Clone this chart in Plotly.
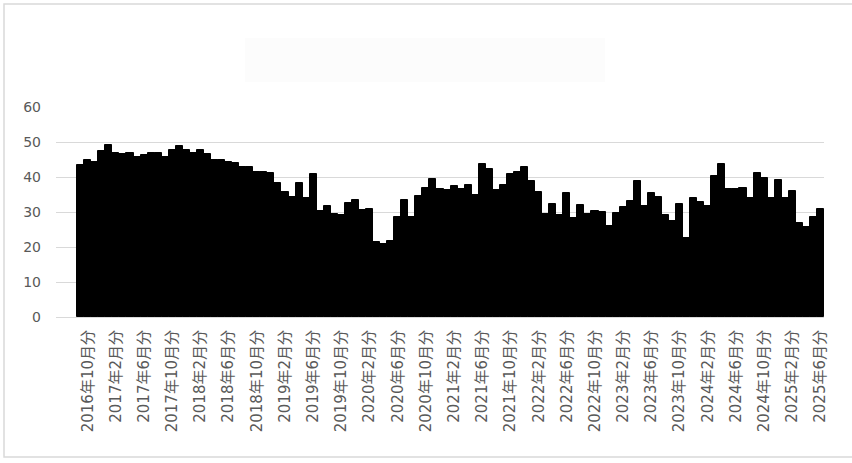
import plotly.graph_objects as go

# Months: 2016年9月分 .. 2025年6月分
months = []
y, m = 2016, 9
while (y, m) <= (2025, 6):
    months.append(f"{y}年{m}月分")
    m += 1
    if m > 12:
        m = 1
        y += 1

values = [
    43.4, 44.9, 44.2, 47.5, 49.1, 47.0, 46.6, 47.0, 45.8, 46.3,
    46.8, 46.9, 45.8, 47.7, 48.9, 47.7, 47.0, 47.7, 46.5, 44.9,
    44.9, 44.2, 44.1, 42.8, 43.0, 41.5, 41.3, 41.2, 38.4, 35.6,
    34.4, 38.4, 33.9, 40.8, 30.4, 31.7, 29.3, 29.1, 32.7, 33.4,
    30.6, 30.9, 21.5, 21.0, 21.8, 28.7, 33.4, 28.7, 34.7, 36.8,
    39.3, 36.5, 36.3, 37.4, 36.5, 37.7, 35.0, 43.6, 42.2, 36.3,
    37.7, 41.0, 41.5, 42.8, 38.9, 35.8, 29.4, 32.3, 29.1, 35.3,
    28.2, 32.0, 29.4, 30.4, 30.1, 26.1, 29.6, 31.3, 33.2, 38.9,
    31.7, 35.5, 34.2, 29.1, 27.5, 32.3, 22.7, 34.1, 33.0, 31.7,
    40.4, 43.6, 36.6, 36.5, 37.0, 34.1, 41.2, 39.8, 34.1, 39.1,
    34.1, 36.1, 26.8, 25.8, 28.5, 30.8,
]

tick_labels = months[1::4]  # 2016年10月分, 2017年2月分, ... 2025年6月分
y_ticks = [0, 10, 20, 30, 40, 50, 60]

fig = go.Figure(
    go.Bar(
        x=months,
        y=values,
        marker=dict(color="#000000", line=dict(color="#000000", width=1)),
        hoverinfo="x+y",
    )
)

font_family = "DejaVu Sans, Noto Sans CJK JP, sans-serif"

fig.update_layout(
    width=852,
    height=463,
    margin=dict(l=56, r=28, t=107, b=146),
    paper_bgcolor="white",
    plot_bgcolor="white",
    bargap=0,
    showlegend=False,
    font=dict(family=font_family, color="#595959"),
    xaxis=dict(
        type="category",
        range=[-3.5, len(months) - 0.5],
        tickmode="array",
        tickvals=tick_labels,
        ticktext=tick_labels,
        tickangle=-90,
        tickfont=dict(size=15, color="#595959", family=font_family),
        showgrid=False,
        showline=True,
        linecolor="#d9d9d9",
        linewidth=1,
        ticks="",
        ticklabelstandoff=6,
    ),
    yaxis=dict(
        range=[0, 60],
        tickvals=y_ticks,
        tickfont=dict(size=14, color="#595959", family=font_family),
        showgrid=True,
        gridcolor="#d9d9d9",
        gridwidth=1,
        zeroline=False,
        showline=False,
        ticks="",
        ticklabelstandoff=14,
    ),
    shapes=[
        dict(
            type="rect", xref="paper", yref="paper",
            x0=-0.0677, x1=1.0677, y0=-0.667, y1=1.490,
            line=dict(color="#d9d9d9", width=1.5),
            fillcolor="rgba(0,0,0,0)", layer="below",
        ),
        dict(
            type="rect", xref="paper", yref="paper",
            x0=(245 - 56) / 768, x1=(605 - 56) / 768,
            y0=(317 - 82) / 210, y1=(317 - 38) / 210,
            line=dict(width=0),
            fillcolor="rgba(0,0,0,0.01)", layer="below",
        ),
    ],
)

fig.write_html(
    "out.html",
    config={"displayModeBar": False},
    post_script="document.body.style.margin='0';document.body.style.overflow='hidden';",
)
